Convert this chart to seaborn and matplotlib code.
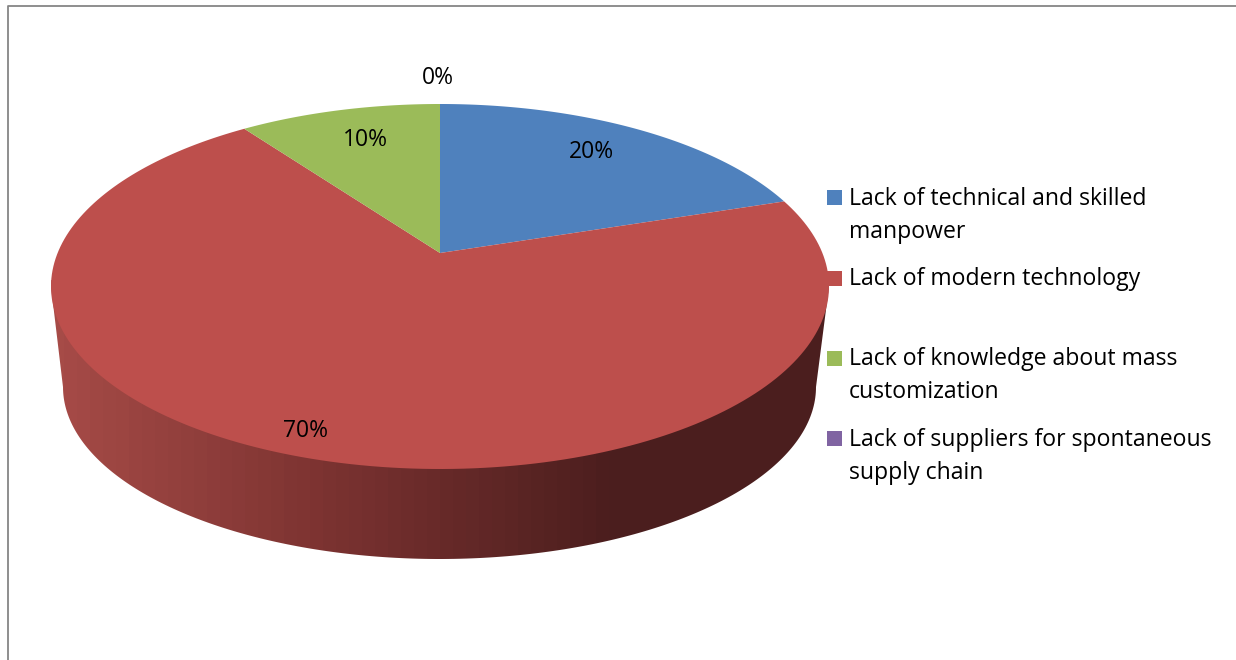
import numpy as np
import matplotlib.pyplot as plt
from matplotlib.patches import Polygon, Rectangle
from matplotlib.colors import LinearSegmentedColormap
import seaborn as sns

categories = [
    "Lack of technical and skilled\nmanpower",
    "Lack of modern technology\n ",
    "Lack of knowledge about mass\ncustomization",
    "Lack of suppliers for spontaneous\nsupply chain",
]
shares = [20, 70, 10, 0]
colors = ["#4F81BD", "#BD4F4C", "#9BBB59", "#8064A2"]

sns.set_theme(style="white")
plt.rcParams["font.family"] = ["Open Sans", "DejaVu Sans"]

# top ellipse and the perspective shift of the pie centre (pixels)
cx, cy, rx, ry = 440, 286.5, 389, 182.5
apex_shift = (286.5 - 253) / 182.5
# lower rim of the side wall
bx, by, brx, bry = 439.5, 387, 376.5, 172


def project(angle, r=1.0):
    # angle clockwise from 12 o'clock, circle mapped so the centre sits off middle
    x = r * np.sin(angle)
    y = r * np.cos(angle)
    d = 1 + apex_shift * y
    px = x * np.sqrt(1 - apex_shift ** 2) / d
    py = (y + apex_shift) / d
    return cx + rx * px, cy - ry * py


fig = plt.figure(figsize=(12.36, 6.6), dpi=100)
ax = fig.add_axes([0, 0, 1, 1])

# side wall with the horizontal shading
t = np.linspace(np.pi, 2 * np.pi, 200)
lower = np.column_stack([bx + brx * np.cos(t), by - bry * np.sin(t)])
t2 = np.linspace(0, np.pi, 200)
upper = np.column_stack([cx + rx * np.cos(t2), cy - ry * np.sin(t2)])
wall = Polygon(np.vstack([upper, lower]), closed=True, transform=ax.transData,
               facecolor="none", edgecolor="none")
ax.add_patch(wall)
shade = LinearSegmentedColormap.from_list(
    "shade", [(0, "#A64B47"), (0.33, "#7E3432"), (0.72, "#4C1E1E"), (1, "#4B1E1E")])
img = ax.imshow(np.linspace(0, 1, 60)[None, :], extent=(51, 829, 560, 280), aspect="auto",
                cmap=shade, vmin=0, vmax=1, zorder=1)
img.set_clip_path(wall)

# top face
start = 0.0
for share, color in zip(shares, colors):
    sweep = 2 * np.pi * share / sum(shares)
    if share > 0:
        a = np.linspace(start, start + sweep, 200)
        xs, ys = project(a)
        ax.fill(np.r_[cx, xs], np.r_[253, ys], color=color, lw=0, zorder=2)
    start += sweep

# percent labels
label_x = [591, 305, 365, 438]
label_y = [152, 431, 140, 78]
for share, lx, ly in zip(shares, label_x, label_y):
    ax.text(lx, ly, f"{share}%", ha="center", va="center", fontsize=16.5, color="black", zorder=3)

# legend
legend_y = [197.5, 278.5, 358.5, 438.5]
text_bottom = [238, 318, 398, 479]
for name, color, sy, tb in zip(categories, colors, legend_y, text_bottom):
    ax.add_patch(Rectangle((827, sy - 7.5), 15, 15, facecolor=color, edgecolor="none", zorder=3))
    ax.text(849, tb, name, ha="left", va="baseline", fontsize=16.6, color="black",
            linespacing=1.5, zorder=3)

# chart frame, only left and top show
ax.plot([8, 8, 1236], [660, 5.5, 5.5], color="#868686", lw=1.3, zorder=3)

ax.set_xlim(0, 1236)
ax.set_ylim(660, 0)
ax.axis("off")

fig.savefig("out.png", dpi=100, facecolor="white")
